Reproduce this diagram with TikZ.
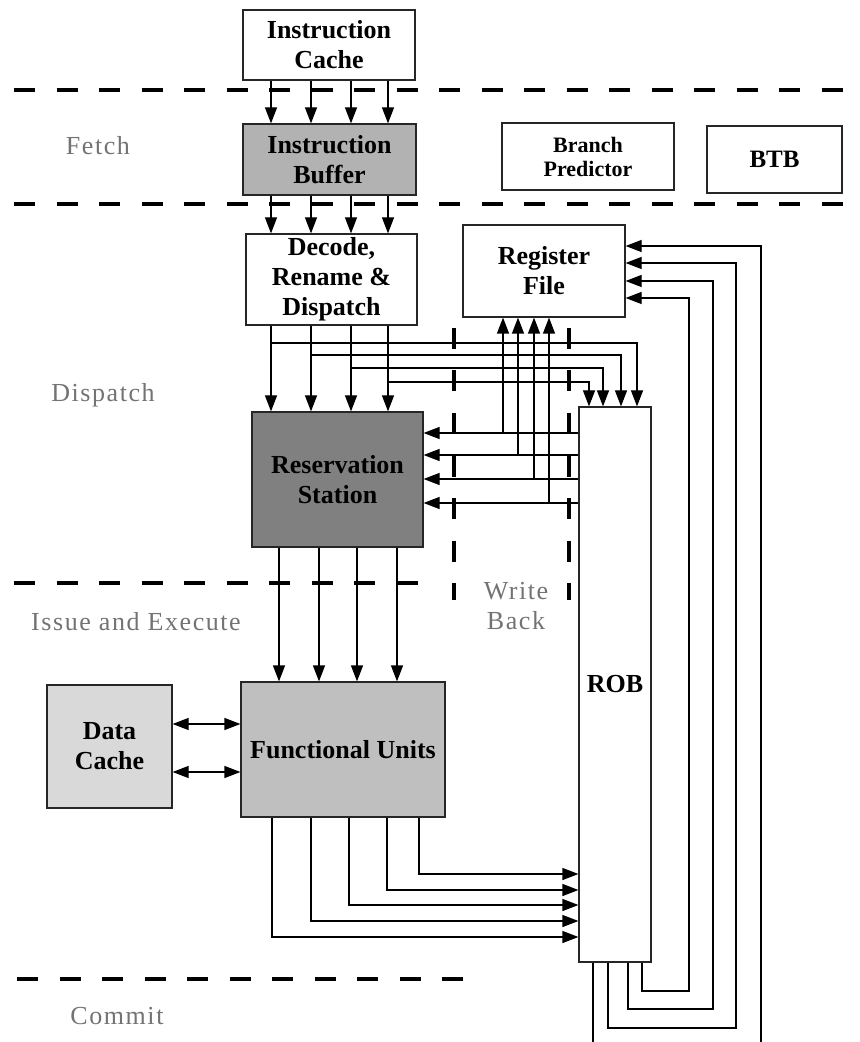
\documentclass[tikz,border=0pt]{standalone}
\usepackage{fontspec}
\setmainfont{Liberation Serif}
\newfontfamily\stagefont[LetterSpace=6]{Liberation Serif}
\usetikzlibrary{arrows.meta}
\tikzset{
  blk/.style={draw=black!85, line width=0.6pt, align=center, inner sep=0pt,
    font=\fontsize{13}{15}\selectfont\bfseries},
  stagelbl/.style={font=\stagefont\fontsize{13}{15}\selectfont, text=black!55,
    align=center},
  wire/.style={line width=0.6pt, color=black},
  arr/.style={wire, -{Triangle[length=8pt,width=6pt]}},
  darr/.style={wire, {Triangle[length=8pt,width=6pt]}-{Triangle[length=8pt,width=6pt]}},
  stageline/.style={line width=2pt, dash pattern=on 10.5pt off 10.75pt},
}
\begin{document}
\begin{tikzpicture}[x=0.5pt,y=-0.5pt]
  \path[use as bounding box] (0,0) rectangle (860,1042);
  % stage boundaries
  \draw[stageline] (14,90) -- (850,90);
  \draw[stageline] (14,204) -- (850,204);
  \draw[stageline] (14,583) -- (420,583);
  \draw[stageline] (17,979) -- (473,979);
  \draw[stageline] (454,328) -- (454,600);
  \draw[stageline] (569,328) -- (569,600);
  % stage names
  \node[stagelbl] (fetch) at (98,146) {Fetch};
  \node[stagelbl] (disp) at (103,395) {Dispatch};
  \node[stagelbl] (issue) at (136,622) {Issue and Execute};
  \node[stagelbl] (wb) at (516,606) {Write\\Back};
  \node[stagelbl] (commit) at (117,1016) {Commit};
  % units
  \node[blk, minimum width=86pt, minimum height=35pt] (ic) at (329,45) {Instruction\\Cache};
  \node[blk, fill=black!30, minimum width=86.5pt, minimum height=35.5pt] (ib) at (329.5,159.5) {Instruction\\Buffer};
  \node[blk, font=\fontsize{11}{12}\selectfont\bfseries, minimum width=86pt,
        minimum height=33.5pt] (bp) at (588,156.5) {Branch\\Predictor};
  \node[blk, font=\fontsize{12.5}{15}\selectfont\bfseries, minimum width=67.5pt,
        minimum height=33.5pt] (btb) at (774.5,159.5) {BTB};
  \node[blk, minimum width=85.5pt, minimum height=45.5pt] (dec) at (331.5,279.5) {Decode,\\Rename \&\\Dispatch};
  \node[blk, minimum width=81pt, minimum height=46pt] (rf) at (544,271) {Register\\File};
  \node[blk, fill=black!50, minimum width=85.5pt, minimum height=67.5pt] (rs) at (337.5,479.5) {Reservation\\Station};
  \node[blk, minimum width=36pt, minimum height=277.5pt] (rob) at (615,684.5) {ROB};
  \node[blk, fill=black!25, minimum width=102pt, minimum height=67.5pt] (fu) at (343,749.5) {Functional Units};
  \node[blk, fill=black!15, minimum width=62.5pt, minimum height=61.5pt] (dc) at (109.5,746.5) {Data\\Cache};
  % fetch
  \foreach \x in {271,311,351,388} {
    \draw[arr] (\x,0 |- ic.south) -- (\x,0 |- ib.north);
    \draw[arr] (\x,0 |- ib.south) -- (\x,0 |- dec.north);
  }
  % dispatch to RS and ROB
  \foreach \x/\y/\r in {271/343/637, 311/355/621, 351/368/603, 388/382/589} {
    \draw[arr] (\x,0 |- dec.south) -- (\x,0 |- rs.north);
    \draw[arr] (\x,0 |- dec.south) -- (\x,\y) -| (\r,0 |- rob.north);
  }
  % write back
  \foreach \y/\x in {433/503, 455/518, 479/534, 503/549} {
    \draw[arr] (rob.west |- 0,\y) -- (rs.east |- 0,\y);
    \draw[arr] (rob.west |- 0,\y) -| (\x,0 |- rf.south);
  }
  % issue
  \foreach \x in {279,319,357,397}
    \draw[arr] (\x,0 |- rs.south) -- (\x,0 |- fu.north);
  \foreach \y in {724,772}
    \draw[darr] (dc.east |- 0,\y) -- (fu.west |- 0,\y);
  % results into ROB
  \foreach \x/\y in {272/937, 311/921, 349/905, 387/890, 419/874}
    \draw[arr] (\x,0 |- fu.south) |- (rob.west |- 0,\y);
  % commit to register file
  \foreach \b/\y/\v/\r in {642/991/689/298, 628/1009/713/281, 608/1028/736/263}
    \draw[arr] (\b,0 |- rob.south) |- (\v,\y) |- (rf.east |- 0,\r);
  \coordinate (robout) at (593,1042);
  \coordinate (rfin) at (761,1042);
  \draw[wire] (593,0 |- rob.south) -- (robout);
  \draw[arr] (rfin) |- (rf.east |- 0,246);
\end{tikzpicture}
\end{document}
